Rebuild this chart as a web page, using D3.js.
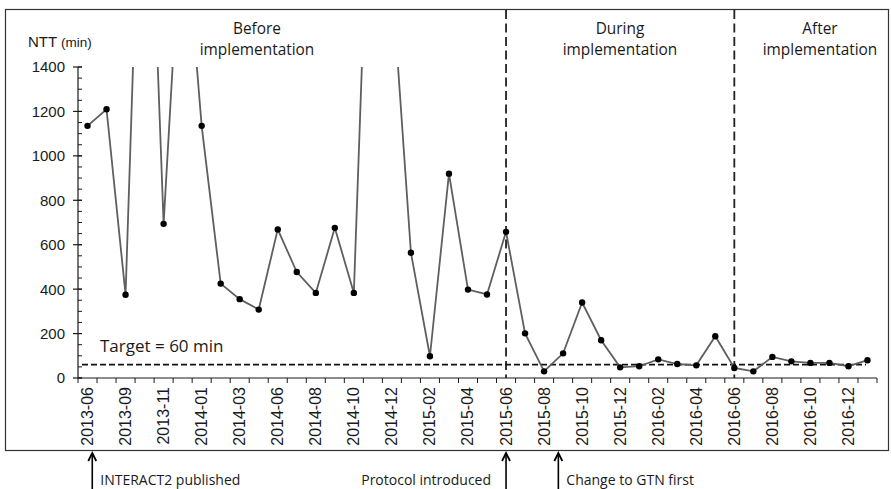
<!DOCTYPE html>
<html><head><meta charset="utf-8">
<script src="https://cdn.jsdelivr.net/npm/d3@7"></script>
<style>body{margin:0;background:#fff}svg{display:block}</style>
</head><body>
<svg id="c" width="891" height="489"></svg>
<script>
const months = ["2013-06","2013-07","2013-09","2013-10","2013-11","2013-12","2014-01","2014-02","2014-03","2014-04","2014-06","2014-07","2014-08","2014-09","2014-10","2014-11","2014-12","2015-01","2015-02","2015-03","2015-04","2015-05","2015-06","2015-07","2015-08","2015-09","2015-10","2015-11","2015-12","2016-01","2016-02","2016-03","2016-04","2016-05","2016-06","2016-07","2016-08","2016-09","2016-10","2016-11","2016-12","2017-01"];
const ntt = [1135,1210,375,3000,694,2190,1135,425,355,308,669,477,383,676,383,2800,1800,564,98,920,398,376,658,201,30,111,340,170,48,53,84,63,57,188,45,30,95,75,68,68,53,80];
const tickLabels = ["2013-06","2013-09","2013-11","2014-01","2014-03","2014-06","2014-08","2014-10","2014-12","2015-02","2015-04","2015-06","2015-08","2015-10","2015-12","2016-02","2016-04","2016-06","2016-08","2016-10","2016-12"];
const yTicks = [0,200,400,600,800,1000,1200,1400];
const target = 60;
const phaseNames = [["Before","implementation"],["During","implementation"],["After","implementation"]];
const phaseBreaks = ["2015-06","2016-06"];
const events = [{label:"INTERACT2 published", at:"2013-06", off:0.25, side:"right"},
                {label:"Protocol introduced", at:"2015-06", off:0, side:"left"},
                {label:"Change to GTN first", at:"2015-08", off:0.75, side:"right"}];

const svg = d3.select("#c");
const x = d3.scaleBand().domain(months).range([78, 877]).paddingInner(0).paddingOuter(0);
const y = d3.scaleLinear().domain([0,1400]).range([378, 67]);
const cx = m => x(m) + x.bandwidth()/2;
const ink = "#1a1a1a";
const sansA = "'Liberation Sans', Arial, sans-serif";
const sansC = "'Open Sans', sans-serif";

// frame
svg.append("rect").attr("x",5.5).attr("y",9.5).attr("width",883).attr("height",441)
  .attr("fill","none").attr("stroke","#333").attr("stroke-width",1.2);

// y axis
const ya = svg.append("g").attr("transform","translate(78,0)");
ya.append("line").attr("y1",y(0)).attr("y2",y(1400)).attr("stroke",ink).attr("stroke-width",1.2);
ya.selectAll("line.minor").data(d3.range(0,1401,50)).join("line").attr("class","minor")
  .attr("x1",0).attr("x2",4).attr("y1",d=>y(d)).attr("y2",d=>y(d)).attr("stroke",ink).attr("stroke-width",1);
ya.selectAll("line.major").data(yTicks).join("line").attr("class","major")
  .attr("x1",-5).attr("x2",4).attr("y1",d=>y(d)).attr("y2",d=>y(d)).attr("stroke",ink).attr("stroke-width",1.2);
ya.selectAll("text").data(yTicks).join("text")
  .attr("x",-13).attr("y",d=>y(d)).attr("dy","0.36em").attr("text-anchor","end")
  .attr("font-family",sansA).attr("font-size",15).attr("fill",ink).text(d=>d);

// axis title
const tt = svg.append("text").attr("x",28).attr("y",47).attr("font-family",sansA).attr("fill",ink);
tt.append("tspan").attr("font-size",15).text("NTT ");
tt.append("tspan").attr("font-size",13.5).text("(min)");

// x axis
const xa = svg.append("g");
xa.append("line").attr("x1",78).attr("x2",877).attr("y1",y(0)).attr("y2",y(0)).attr("stroke",ink).attr("stroke-width",1.2);
const bounds = months.map(m=>x(m)).concat([x.range()[1]]);
xa.selectAll("line.t").data(bounds).join("line").attr("class","t")
  .attr("x1",d=>d).attr("x2",d=>d).attr("y1",y(0)).attr("y2",y(0)+5).attr("stroke",ink).attr("stroke-width",1);
xa.selectAll("text").data(tickLabels).join("text")
  .attr("transform",d=>`translate(${cx(d)+5.5},${y(0)+9}) rotate(-90)`)
  .attr("text-anchor","end").attr("font-family",sansA).attr("font-size",16).attr("fill",ink).text(d=>d);

// phase separators
svg.selectAll("line.ph").data(phaseBreaks).join("line").attr("class","ph")
  .attr("x1",d=>cx(d)).attr("x2",d=>cx(d)).attr("y1",10).attr("y2",y(0))
  .attr("stroke","#222").attr("stroke-width",1.8).attr("stroke-dasharray","9,4.5");

// phase headings
const headX = [257, 620, 820];
phaseNames.forEach((p,i)=>{
  svg.append("text").attr("x",headX[i]).attr("y",34).attr("text-anchor","middle")
    .attr("font-family",sansC).attr("font-size",15.4).attr("fill",ink).text(p[0]);
  svg.append("text").attr("x",headX[i]).attr("y",55).attr("text-anchor","middle")
    .attr("font-family",sansC).attr("font-size",15.4).attr("fill",ink).text(p[1]);
});

// target line
svg.append("line").attr("x1",82).attr("x2",866).attr("y1",y(target)).attr("y2",y(target))
  .attr("stroke","#111").attr("stroke-width",1.8).attr("stroke-dasharray","6,3");
svg.append("text").attr("x",100).attr("y",352).attr("font-family",sansC).attr("font-size",17).attr("fill",ink).text("Target = 60 min");

// data
svg.append("clipPath").attr("id","clip").append("rect").attr("x",70).attr("y",y(1400)).attr("width",820).attr("height",y(0)-y(1400)+10);
const pts = months.map((m,i)=>({m, v:ntt[i]}));
const line = d3.line().x(d=>cx(d.m)).y(d=>y(d.v));
const g = svg.append("g").attr("clip-path","url(#clip)");
g.append("path").attr("d",line(pts)).attr("fill","none").attr("stroke","#5f5f5f").attr("stroke-width",1.8);
g.selectAll("circle").data(pts.filter(d=>d.v<=1400)).join("circle")
  .attr("cx",d=>cx(d.m)).attr("cy",d=>y(d.v)).attr("r",3.2).attr("fill","#000");

// event arrows
events.forEach(e=>{
  const ax = cx(e.at) + e.off*x.bandwidth();
  const top = 453;
  svg.append("line").attr("x1",ax).attr("x2",ax).attr("y1",top+1).attr("y2",489)
    .attr("stroke","#000").attr("stroke-width",1.6);
  svg.append("path").attr("d",`M${ax-4},${top+8} L${ax},${top} L${ax+4},${top+8}`)
    .attr("fill","none").attr("stroke","#000").attr("stroke-width",1.8).attr("stroke-linejoin","miter");
  svg.append("text").attr("x", e.side==="right" ? ax+8 : ax-15).attr("y",485)
    .attr("text-anchor", e.side==="right" ? "start":"end")
    .attr("font-family",sansC).attr("font-size",14).attr("fill",ink).text(e.label);
});
</script>
</body></html>
